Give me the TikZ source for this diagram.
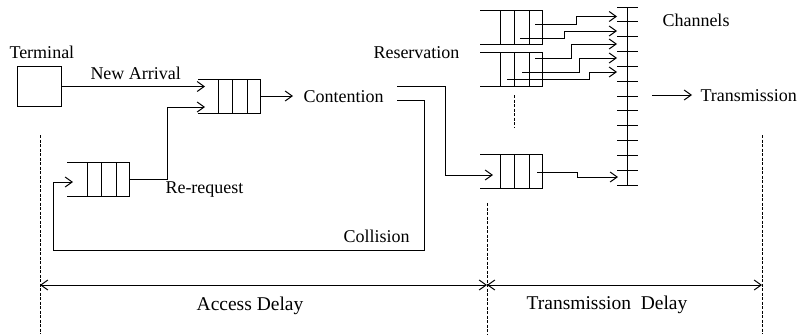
\documentclass[tikz,border=0pt]{standalone}
\usepackage{fontspec}
\setmainfont{Liberation Serif}
\usetikzlibrary{arrows.meta}
\begin{document}
\begin{tikzpicture}[x=1bp,y=-1bp,line width=1bp,
  arr/.style={-{Straight Barb[length=7bp,width=10bp]}},
  dimarr/.style={{Straight Barb[length=7bp,width=10bp]}-{Straight Barb[length=7bp,width=10bp]}},
  guide/.style={dash pattern=on 3bp off 1.5bp,line width=0.8bp},
  lbl/.style={inner sep=0pt,anchor=base west,font=\fontsize{18bp}{20bp}\selectfont},
  biglbl/.style={inner sep=0pt,anchor=base,font=\fontsize{19.5bp}{22bp}\selectfont},
  fifo/.pic={
    \draw (0,0) -- (62,0) -- (62,34) -- (0,34);
    \draw (20,0) -- (20,34) (34,0) -- (34,34) (49,0) -- (49,34);
    \coordinate (-o) at (62,17);
  }]
\useasboundingbox (0,0) rectangle (808,334);

% terminal and labels
\node[draw,minimum width=43bp,minimum height=40bp,inner sep=0pt] (term) at (39.5,86.5) {};
\node[lbl] (tTerm) at (9,58) {Terminal};
\node[lbl] (tNew) at (90,79) {New Arrival};
\node[lbl] (tCont) at (303,102) {Contention};
\node[lbl] (tRe) at (165,193) {Re-request};
\node[lbl] (tCol) at (343,242) {Collision};
\node[lbl] (tRes) at (373,58) {Reservation};
\node[lbl] (tChan) at (662,26) {Channels};
\node[lbl] (tTx) at (700,101) {Transmission};
\node[biglbl] (tAcc) at (250,310) {Access Delay};
\node[biglbl] (tTxD) at (607,309) {Transmission\ \ Delay};

% queues
\pic (qa) at (198,79) {fifo};
\pic (qr) at (67,162) {fifo};
\pic (qu1) at (480,10) {fifo};
\pic (qu2) at (480,52) {fifo};
\pic (qt) at (480,154) {fifo};

% connection points
\coordinate (qa-a1) at (205,87);
\coordinate (qa-a2) at (205,107);
\coordinate (qr-a) at (73,182);
\coordinate (qt-a) at (493,175);
\coordinate (c1) at (397,86);
\coordinate (c2) at (397,100);

% access part
\draw[arr] (term.east) -- (term.east -| qa-a1);
\draw[arr] (qr-o) -- ++(38,0) |- (qa-a2);
\draw[arr,shorten >=10bp] (qa-o) -- (qa-o -| tCont.west);
\draw[arr] (c1) -- ++(48,0) |- (qt-a);
\draw[arr] (c2) -| (424,250) -| (53,182) -- (qr-a);

% channel bar
\draw (627,7) -- (627,185);
\foreach \i in {0,...,12}
  \draw (617,{7+\i*14.833}) -- (638,{7+\i*14.833});

% reserved slots to channels
\coordinate (s1) at (535,24);  \coordinate (t1) at (617,16.5);
\coordinate (s2) at (520,38);  \coordinate (t2) at (617,31);
\coordinate (s3) at (535,58);  \coordinate (t3) at (617,44);
\coordinate (s4) at (522,72);  \coordinate (t4) at (617,58);
\coordinate (s5) at (507,79);  \coordinate (t5) at (617,72);
\coordinate (s6) at (537,172); \coordinate (t6) at (618,177);
\draw[arr] (s1) -- (576,24) |- (t1);
\draw[arr] (s2) -- (564,38) |- (t2);
\draw[arr] (s3) -- (571,58) |- (t3);
\draw[arr] (s4) -- (579,72) |- (t4);
\draw[arr] (s5) -- (589,79) |- (t5);
\draw[arr] (s6) -- (577,172) |- (t6);

\coordinate (txs) at (652,95);
\draw[arr,shorten >=8bp] (txs) -- (txs -| tTx.west);

% more reservation queues
\draw[guide] (514,95) -- (514,128);

% delay guides
\draw[guide] (40,135) -- (40,334);
\draw[guide] (487,203) -- (487,334);
\draw[guide] (762,135) -- (762,334);
\coordinate (dA) at (40,285);
\coordinate (dB) at (487,285);
\coordinate (dC) at (762,285);
\draw[dimarr] (dA) -- (dB);
\draw[dimarr] (dB) -- (dC);
\end{tikzpicture}
\end{document}
